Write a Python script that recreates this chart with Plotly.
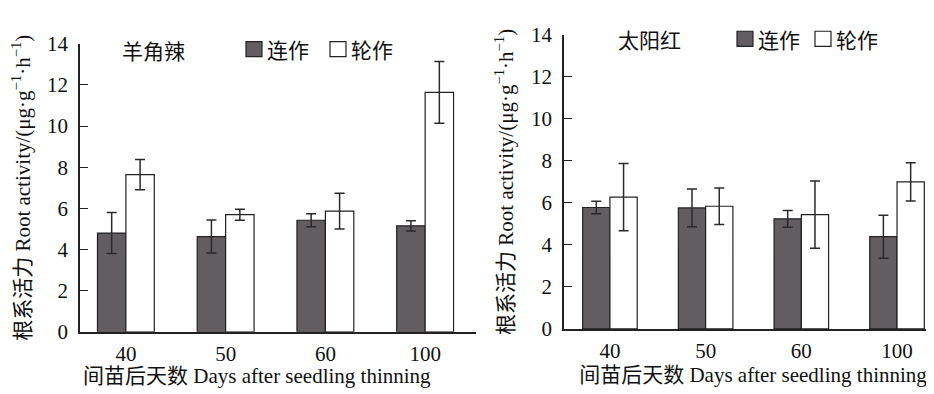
import plotly.graph_objects as go

categories = ["40", "50", "60", "100"]
series_names = ["连作", "轮作"]
panel_titles = ["羊角辣", "太阳红"]

# Left panel (羊角辣)
left_cont = [4.80, 4.63, 5.42, 5.15]
left_cont_err = [1.0, 0.80, 0.32, 0.25]
left_rot = [7.64, 5.69, 5.86, 11.64]
left_rot_err = [0.74, 0.27, 0.87, 1.50]

# Right panel (太阳红)
right_cont = [5.78, 5.76, 5.24, 4.39]
right_cont_err = [0.30, 0.90, 0.40, 1.02]
right_rot = [6.27, 5.84, 5.44, 7.00]
right_rot_err = [1.60, 0.87, 1.60, 0.91]

y_ticks = [0, 2, 4, 6, 8, 10, 12, 14]

DARK = "#625d61"
SERIF = "Liberation Serif, Times New Roman, Noto Sans CJK SC, serif"
CJK = "Noto Sans CJK SC"
FS = 21

fig = go.Figure()

panels = [
    (left_cont, left_cont_err, left_rot, left_rot_err, "x", "y"),
    (right_cont, right_cont_err, right_rot, right_rot_err, "x2", "y2"),
]
for cont, cerr, rot, rerr, xa, ya in panels:
    fig.add_trace(go.Bar(
        x=categories, y=cont, name=series_names[0], xaxis=xa, yaxis=ya,
        marker=dict(color=DARK, line=dict(color="#222222", width=1.2)),
        error_y=dict(type="data", array=cerr, visible=True, color="#2a2a2a",
                     thickness=1.5, width=5),
        showlegend=False,
    ))
    fig.add_trace(go.Bar(
        x=categories, y=rot, name=series_names[1], xaxis=xa, yaxis=ya,
        marker=dict(color="#ffffff", line=dict(color="#222222", width=1.2)),
        error_y=dict(type="data", array=rerr, visible=True, color="#2a2a2a",
                     thickness=1.5, width=5),
        showlegend=False,
    ))

ytitle = "根系活力 Root activity/(μg·g<sup>−1</sup>·h<sup>−1</sup>)"
xtitle = "间苗后天数 Days after seedling thinning"

axis_common_y = dict(
    range=[0, 14], tickvals=y_ticks, showline=True, linecolor="#222222", linewidth=1.5,
    ticks="inside", ticklen=8, tickwidth=1.2, tickcolor="#222222",
    showgrid=False, zeroline=False, tickfont=dict(family=SERIF, size=FS, color="#111111"),
    ticklabelstandoff=6,
    title=dict(text=ytitle, font=dict(family=SERIF, size=FS, color="#111111"), standoff=12),
)
axis_common_x = dict(
    type="category", showline=True, linecolor="#222222", linewidth=1.5,
    ticks="", showgrid=False, zeroline=False,
    tickfont=dict(family=SERIF, size=FS, color="#111111"),
    ticklabelstandoff=2,
)

fig.update_layout(
    width=934, height=394,
    margin=dict(l=0, r=0, t=0, b=0),
    paper_bgcolor="white", plot_bgcolor="white",
    barmode="group", bargap=0.43, bargroupgap=0,
    xaxis=dict(axis_common_x, domain=[72/934, 468/934], range=[-0.46, 3.51], anchor="y"),
    yaxis=dict(axis_common_y, domain=[62/394, 368.7/394], anchor="x"),
    xaxis2=dict(axis_common_x, domain=[556/934, 1.0], range=[-0.48, 3.47], anchor="y2",
                title=dict(text=xtitle, font=dict(family=SERIF, size=FS, color="#111111"), standoff=4)),
    yaxis2=dict(axis_common_y, domain=[65/394, 378.3/394], anchor="x2"),
)

shapes = []
annotations = []

# Left panel x-axis title (set slightly left of the axis centre, as in the source)
annotations.append(dict(text=xtitle, x=249/934, y=1 - 379/394, xref="paper", yref="paper",
                        showarrow=False, xanchor="center", yanchor="middle",
                        font=dict(family=SERIF, size=FS, color="#111111")))

# Panel titles and legend keys
legend_specs = [
    # (title x center, title y, square1 x0, square2 x0, y center) in pixels
    (145, 32, 238, 322, 31),
    (641, 20, 729, 807, 20),
]
for (tx, ty, s1, s2, ly), title in zip(legend_specs, panel_titles):
    annotations.append(dict(text=title, x=tx/934, y=1 - ty/394, xref="paper", yref="paper",
                            showarrow=False, xanchor="center", yanchor="middle",
                            font=dict(family=CJK, size=FS, color="#111111")))
    for sx, fill, name in [(s1, DARK, series_names[0]), (s2, "#ffffff", series_names[1])]:
        shapes.append(dict(type="rect", xref="paper", yref="paper",
                           x0=sx/934, x1=(sx + 16)/934, y0=1 - (ly + 8)/394, y1=1 - (ly - 8)/394,
                           fillcolor=fill, line=dict(color="#222222", width=1.2)))
        annotations.append(dict(text=name, x=(sx + 19)/934, y=1 - ly/394, xref="paper", yref="paper",
                                showarrow=False, xanchor="left", yanchor="middle",
                                font=dict(family=CJK, size=FS, color="#111111")))

fig.update_layout(shapes=shapes, annotations=annotations)

fig.write_html("out.html")
